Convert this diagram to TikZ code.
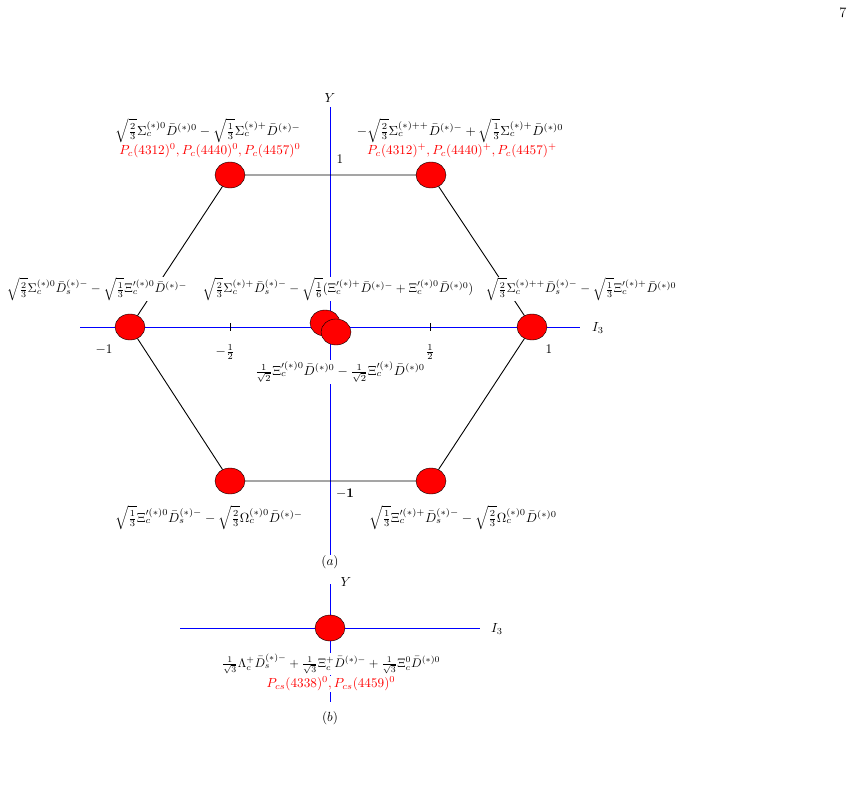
\documentclass[tikz,border=0pt]{standalone}
\usetikzlibrary{shapes.geometric}
\begin{document}
\begin{tikzpicture}[x=1pt,y=-1pt,
  st/.style={ellipse,draw=black,fill=red,minimum width=30pt,minimum height=26pt,inner sep=0pt},
  ax/.style={blue,line width=0.9pt},
  ed/.style={black,line width=0.9pt},
  lb/.style={fill=white,inner sep=1pt,font=\normalsize,scale=1.32,transform shape},
  rd/.style={text=red,inner sep=1pt,font=\normalsize,scale=1.32,transform shape},
  tk/.style={inner sep=1pt,font=\normalsize,scale=1.32,transform shape}]
\useasboundingbox (0,0) rectangle (857,811);
\node[font=\large,scale=1.2] (pg) at (843,13) {7};
% axes (a)
\coordinate (xl) at (80,327); \coordinate (xr) at (580,327);
\coordinate (yt) at (330,107); \coordinate (yb) at (330,555);
\draw[ax] (xl) -- (xr);
\draw[ax] (yt) -- (yb);
\coordinate (t1a) at (230,323); \coordinate (t1b) at (230,331);
\coordinate (t2a) at (430,323); \coordinate (t2b) at (430,331);
\draw[black,thick] (t1a)--(t1b); \draw[black,thick] (t2a)--(t2b);
% nodes
\node[st] (a) at (230,175) {};
\node[st] (b) at (431,175) {};
\node[st] (c) at (130,327) {};
\node[st] (d) at (532,327) {};
\node[st] (f) at (230,481) {};
\node[st] (g) at (431,481) {};
\draw[ed] (a)--(b) (b)--(d) (d)--(g) (g)--(f) (f)--(c) (c)--(a);
\node[st] (e1) at (325,323) {};
\node[st] (e2) at (336,332) {};
% labels
\node[tk] (ly) at (330,98) {$Y$};
\node[tk] (li) at (598,328) {$I_3$};
\node[tk] (l1) at (340,159) {$1$};
\node[tk,fill=white] (lm1) at (345,494) {$\mathbf{-1}$};
\node[tk] (lx1) at (104,350) {$-1$};
\node[tk] (lx2) at (225,352) {$-\frac12$};
\node[tk] (lx3) at (430,352) {$\frac12$};
\node[tk] (lx4) at (549,349) {$1$};
\node[lb] (ta) at (208,131) {$\sqrt{\frac23}\Sigma_c^{(*)0}\bar D^{(*)0}-\sqrt{\frac13}\Sigma_c^{(*)+}\bar D^{(*)-}$};
\node[rd] (ra) at (210,151) {$P_c(4312)^0,P_c(4440)^0,P_c(4457)^0$};
\node[lb] (tb) at (460,131) {$-\sqrt{\frac23}\Sigma_c^{(*)++}\bar D^{(*)-}+\sqrt{\frac13}\Sigma_c^{(*)+}\bar D^{(*)0}$};
\node[rd] (rb) at (462,151) {$P_c(4312)^+,P_c(4440)^+,P_c(4457)^+$};
\node[lb,inner sep=0pt,scale=0.96] (tc) at (97,289) {$\sqrt{\frac23}\Sigma_c^{(*)0}\bar D_s^{(*)-}-\sqrt{\frac13}\Xi_c^{\prime(*)0}\bar D^{(*)-}$};
\node[lb,inner sep=0pt,scale=0.96] (te) at (338,289) {$\sqrt{\frac23}\Sigma_c^{(*)+}\bar D_s^{(*)-}-\sqrt{\frac16}(\Xi_c^{\prime(*)+}\bar D^{(*)-}+\Xi_c^{\prime(*)0}\bar D^{(*)0})$};
\node[lb,inner sep=0pt,scale=0.96] (td) at (581,289) {$\sqrt{\frac23}\Sigma_c^{(*)++}\bar D_s^{(*)-}-\sqrt{\frac13}\Xi_c^{\prime(*)+}\bar D^{(*)0}$};
\node[lb] (te2) at (340,372) {$\frac{1}{\sqrt2}\Xi_c^{\prime(*)0}\bar D^{(*)0}-\frac{1}{\sqrt2}\Xi_c^{\prime(*)}\bar D^{(*)0}$};
\node[lb] (tf) at (209,518) {$\sqrt{\frac13}\Xi_c^{\prime(*)0}\bar D_s^{(*)-}-\sqrt{\frac23}\Omega_c^{(*)0}\bar D^{(*)-}$};
\node[lb] (tg) at (463,518) {$\sqrt{\frac13}\Xi_c^{\prime(*)+}\bar D_s^{(*)-}-\sqrt{\frac23}\Omega_c^{(*)0}\bar D^{(*)0}$};
\node[tk] (pa) at (330,562) {$(a)$};
% panel b
\coordinate (bxl) at (180,628); \coordinate (bxr) at (480,628);
\coordinate (byt) at (330,584); \coordinate (byb) at (330,702);
\draw[ax] (bxl)--(bxr);
\draw[ax] (byt)--(byb);
\node[st] (h) at (330,628) {};
\node[tk] (bly) at (346,582) {$Y$};
\node[tk] (bli) at (497,629) {$I_3$};
\node[lb,scale=0.94] (th) at (331,664) {$\frac{1}{\sqrt3}\Lambda_c^+\bar D_s^{(*)-}+\frac{1}{\sqrt3}\Xi_c^+\bar D^{(*)-}+\frac{1}{\sqrt3}\Xi_c^0\bar D^{(*)0}$};
\node[rd,fill=white] (rh) at (331,684) {$P_{cs}(4338)^0,P_{cs}(4459)^0$};
\node[tk] (pb) at (330,718) {$(b)$};
\end{tikzpicture}
\end{document}
